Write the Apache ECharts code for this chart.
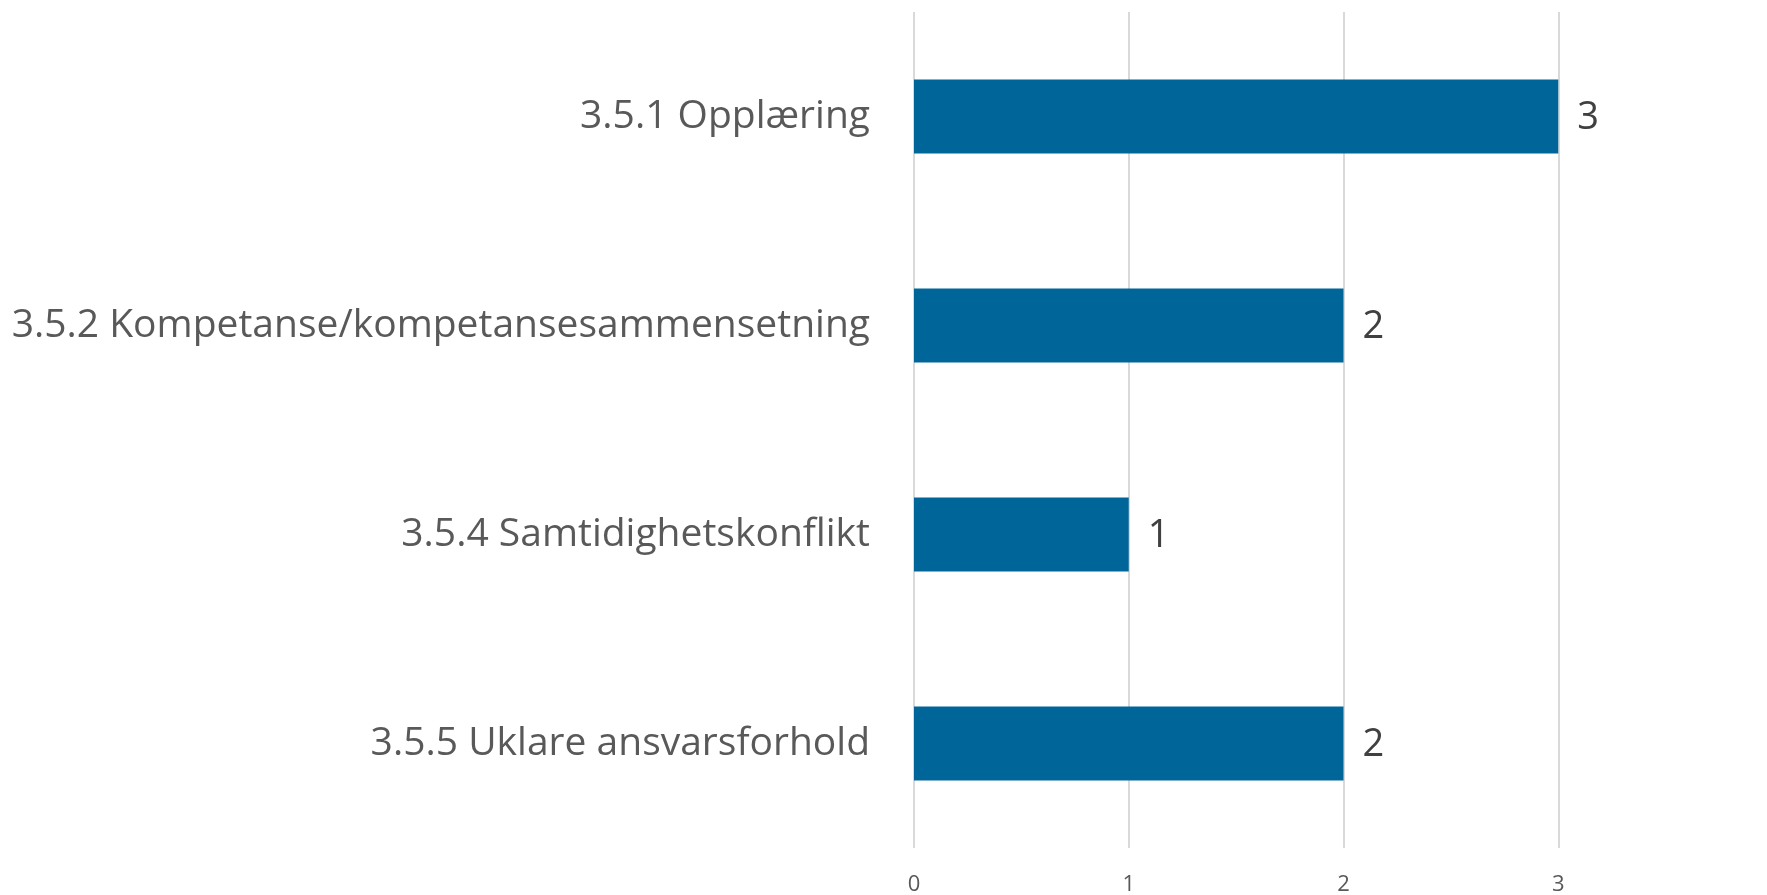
<!DOCTYPE html>
<html>
<head>
<meta charset="utf-8">
<script src="https://cdn.jsdelivr.net/npm/echarts@6/dist/echarts.min.js"></script>
<style>
    html, body { margin: 0; padding: 0; background: #fff; }
    #bar { width: 1767px; height: 895px; }
</style>
</head>
<body>
<div id="bar"></div>
<script>
// kategorier og verdier
var categories = ['3.5.1 Opplæring', '3.5.2 Kompetanse/kompetansesammensetning', '3.5.4 Samtidighetskonflikt', '3.5.5 Uklare ansvarsforhold'];
var values = [3, 2, 1, 2];
var xTicks = [0, 1, 2, 3, 4];

var chart = echarts.init(document.getElementById('bar'));
var option = {
    textStyle: { fontFamily: 'Open Sans' },
    grid: {
        left: 914,
        top: 12,
        width: 859,
        height: 836,
        containLabel: false,
        outerBoundsMode: 'none'
    },
    xAxis: {
        type: 'value',
        min: xTicks[0],
        max: xTicks[xTicks.length - 1],
        interval: 1,
        axisLine: { show: false },
        axisTick: { show: false },
        axisLabel: {
            fontSize: 22,
            color: '#595959',
            margin: 26
        },
        splitLine: {
            lineStyle: { color: '#d9d9d9', width: 2 }
        }
    },
    yAxis: {
        type: 'category',
        inverse: true,
        data: categories,
        axisLine: { show: false },
        axisTick: { show: false },
        axisLabel: {
            fontSize: 39,
            color: '#595959',
            margin: 44,
            padding: [0, 0, 15, 0]
        }
    },
    series: [
        {
            type: 'bar',
            data: values,
            barWidth: '35.5%',
            itemStyle: { color: '#006699' },
            label: {
                show: true,
                position: 'right',
                distance: 19,
                offset: [0, 2],
                fontSize: 38,
                color: '#404040'
            },
            silent: true
        }
    ],
    animation: false
};
chart.setOption(option);
</script>
</body>
</html>
